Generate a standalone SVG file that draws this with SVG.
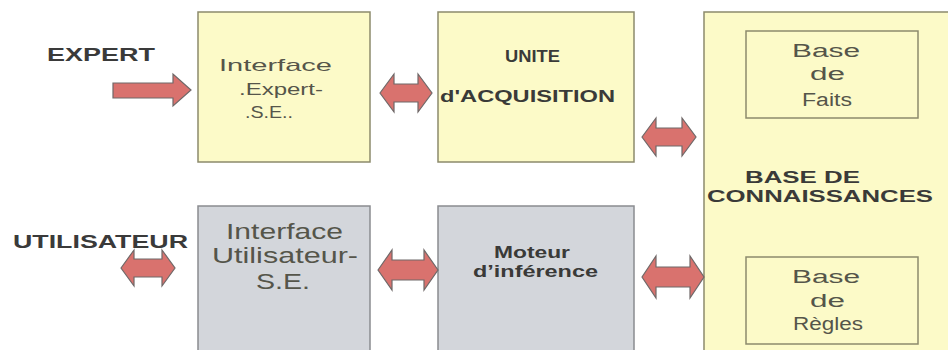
<svg xmlns="http://www.w3.org/2000/svg" width="948" height="350" viewBox="0 0 948 350">
<style>
.yel{fill:#fcfac8;stroke:#8c8a6c;stroke-width:1.5}
.gry{fill:#d3d6db;stroke:#8a8c90;stroke-width:1.5}
.inner{fill:none;stroke:#8c8a6c;stroke-width:1.5}
.arr{fill:#d9726e;stroke:#6f6868;stroke-width:1.2;stroke-linejoin:miter}
.lbl{font-family:"Liberation Sans",Arial,sans-serif;font-weight:bold;fill:#3a3a3a}
.t{font-family:"Liberation Sans",Arial,sans-serif;fill:#55554a;text-anchor:middle}
.tb{font-family:"Liberation Sans",Arial,sans-serif;font-weight:bold;fill:#3a3a38;text-anchor:middle}
</style>
<rect width="948" height="350" fill="#ffffff"/>
<g id="expert">
<text class="lbl" x="47" y="61" font-size="18" textLength="108" lengthAdjust="spacingAndGlyphs">EXPERT</text>
</g>
<g id="utilisateur">
<text class="lbl" x="13" y="248" font-size="18" textLength="175" lengthAdjust="spacingAndGlyphs">UTILISATEUR</text>
</g>
<g id="interface-expert">
<rect class="yel" x="198" y="12" width="172" height="150"/>
<text class="t" x="275.5" y="71" font-size="17" textLength="113" lengthAdjust="spacingAndGlyphs">Interface</text>
<text class="t" x="281" y="95" font-size="17" textLength="84" lengthAdjust="spacingAndGlyphs">.Expert-</text>
<text class="t" x="269" y="118" font-size="17" textLength="48" lengthAdjust="spacingAndGlyphs">.S.E..</text>
</g>
<g id="unite-acquisition">
<rect class="yel" x="438" y="12" width="196" height="150"/>
<text class="tb" x="532.5" y="62" font-size="16" textLength="55" lengthAdjust="spacingAndGlyphs">UNITE</text>
<text class="tb" x="527.5" y="102" font-size="16" textLength="175" lengthAdjust="spacingAndGlyphs">d'ACQUISITION</text>
</g>
<g id="base-connaissances">
<rect class="yel" x="704" y="12" width="260" height="350"/>
<text class="tb" x="802.5" y="183" font-size="17" textLength="115" lengthAdjust="spacingAndGlyphs">BASE DE</text>
<text class="tb" x="820" y="202" font-size="17" textLength="226" lengthAdjust="spacingAndGlyphs">CONNAISSANCES</text>
</g>
<g id="base-faits">
<rect class="inner" x="746" y="31" width="172" height="87"/>
<text class="t" x="826" y="57" font-size="18" textLength="68" lengthAdjust="spacingAndGlyphs">Base</text>
<text class="t" x="827.5" y="80" font-size="18" textLength="35" lengthAdjust="spacingAndGlyphs">de</text>
<text class="t" x="827" y="106" font-size="18" textLength="50" lengthAdjust="spacingAndGlyphs">Faits</text>
</g>
<g id="base-regles">
<rect class="inner" x="746" y="257" width="172" height="87"/>
<text class="t" x="826" y="283" font-size="18" textLength="68" lengthAdjust="spacingAndGlyphs">Base</text>
<text class="t" x="827.5" y="307" font-size="18" textLength="35" lengthAdjust="spacingAndGlyphs">de</text>
<text class="t" x="828" y="330" font-size="18" textLength="70" lengthAdjust="spacingAndGlyphs">Règles</text>
</g>
<g id="interface-utilisateur">
<rect class="gry" x="198" y="206" width="172" height="160"/>
<text class="t" x="284.5" y="239" font-size="22" textLength="117" lengthAdjust="spacingAndGlyphs">Interface</text>
<text class="t" x="285" y="263" font-size="22" textLength="146" lengthAdjust="spacingAndGlyphs">Utilisateur-</text>
<text class="t" x="283" y="289" font-size="22" textLength="54" lengthAdjust="spacingAndGlyphs">S.E.</text>
</g>
<g id="moteur-inference">
<rect class="gry" x="438" y="206" width="196" height="160"/>
<text class="tb" x="532" y="258" font-size="17" textLength="76" lengthAdjust="spacingAndGlyphs">Moteur</text>
<text class="tb" x="535.5" y="277" font-size="17" textLength="125" lengthAdjust="spacingAndGlyphs">d’inférence</text>
</g>
<g id="connectors">
<polygon class="arr" points="113,83 173,83 173,74 191,90 173,106 173,98 113,98"/>
<polygon class="arr" points="380,93 394,74 394,84 418,84 418,74 432,93 418,112 418,102 394,102 394,112"/>
<polygon class="arr" points="642,137 656,118 656,128 682,128 682,118 696,137 682,156 682,146 656,146 656,156"/>
<polygon class="arr" points="121,268 134,250 134,259 162,259 162,250 175,268 162,286 162,277 134,277 134,286"/>
<polygon class="arr" points="378,270 392,250 392,260 424,260 424,250 438,270 424,290 424,280 392,280 392,290"/>
<polygon class="arr" points="642,277 656,256 656,267 690,267 690,256 704,277 690,298 690,287 656,287 656,298"/>
</g>
</svg>
